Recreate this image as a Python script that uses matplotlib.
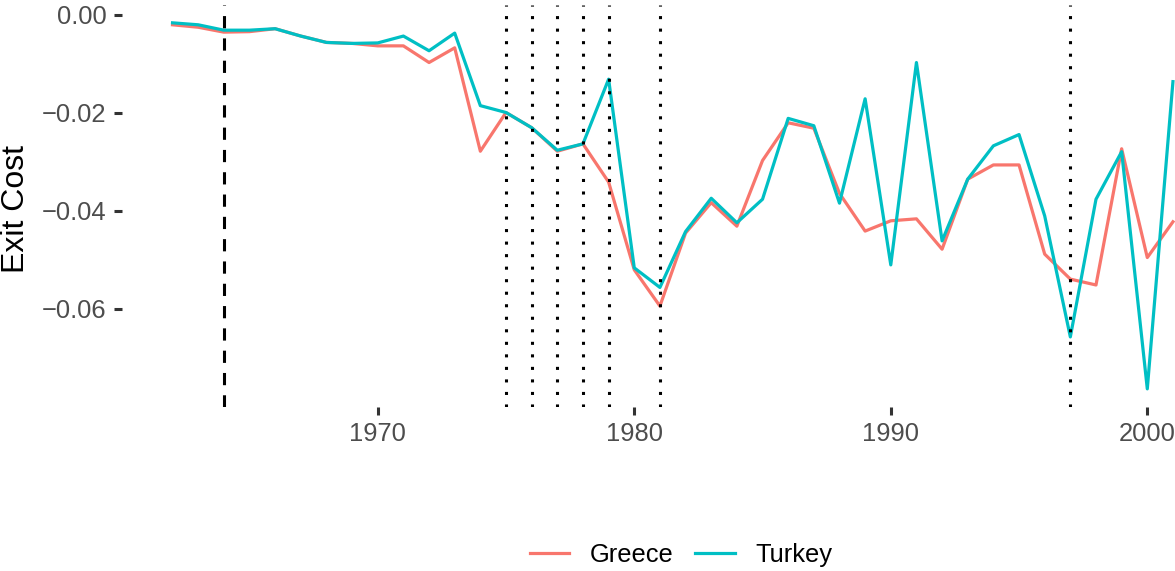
import matplotlib
matplotlib.use("Agg")
import matplotlib.pyplot as plt
import numpy as np

plt.rcParams['font.family'] = ['Liberation Sans', 'DejaVu Sans']

years = list(range(1962, 2002))
greece = [-0.0020, -0.0025, -0.0035, -0.0034, -0.0028, -0.0043, -0.0056, -0.0058,
          -0.0063, -0.0063, -0.0097, -0.0067, -0.0278, -0.0199, -0.0230, -0.0278,
          -0.0263, -0.0341, -0.0520, -0.0594, -0.0445, -0.0383, -0.0431, -0.0297,
          -0.0220, -0.0231, -0.0364, -0.0441, -0.0420, -0.0416, -0.0478, -0.0335,
          -0.0306, -0.0306, -0.0488, -0.0539, -0.0551, -0.0273, -0.0495, -0.0422]
turkey = [-0.0016, -0.0020, -0.0031, -0.0031, -0.0028, -0.0043, -0.0056, -0.0058,
          -0.0057, -0.0043, -0.0073, -0.0037, -0.0185, -0.0199, -0.0230, -0.0276,
          -0.0263, -0.0131, -0.0516, -0.0556, -0.0442, -0.0374, -0.0424, -0.0376,
          -0.0211, -0.0226, -0.0384, -0.0171, -0.0510, -0.0097, -0.0461, -0.0335,
          -0.0267, -0.0244, -0.0410, -0.0657, -0.0376, -0.0279, -0.0763, -0.0136]
dashed_years = [1964]
dotted_years = [1975, 1976, 1977, 1978, 1979, 1981, 1997]
x_ticks = [1970, 1980, 1990, 2000]
y_ticks = [0.00, -0.02, -0.04, -0.06]

W, H = 1175, 571
fig = plt.figure(figsize=(W / 100, H / 100), dpi=100)
# panel in pixel coords (image is cropped on the right)
left, right, top, bottom = 122, 1175, 4.7, 407
ax = fig.add_axes([left / W, 1 - bottom / H, (right - left) / W, (bottom - top) / H])

ax.plot(years, greece, color='#F8766D', lw=2.3, label='Greece', solid_joinstyle='round')
ax.plot(years, turkey, color='#00BFC4', lw=2.3, label='Turkey', solid_joinstyle='round')

for yr in dashed_years:
    ax.axvline(yr, color='black', lw=2.2, dashes=(4.0, 3.3), dash_capstyle='butt')
for yr in dotted_years:
    ax.axvline(yr, color='black', lw=2.2, dashes=(1.0, 3.1), dash_capstyle='butt')

ax.set_xlim(1960.03, 2001.08)
ax.set_ylim(-0.0800, 0.0021)
ax.set_xticks(x_ticks)
ax.set_yticks(y_ticks)
ax.set_yticklabels(['0.00' if v == 0 else '\u2212%.2f' % abs(v) for v in y_ticks])

for s in ax.spines.values():
    s.set_visible(False)
ax.tick_params(axis='both', length=5.8, width=2.2, color='#333333',
               labelcolor='#4D4D4D', labelsize=18.4, pad=5.2)
fig.text(16 / W, 1 - 209 / H, 'Exit Cost', rotation=90, fontsize=23,
         color='black', ha='center', va='center')

fig.legend(loc='center', bbox_to_anchor=(681 / W, 1 - 555 / H), ncol=2,
           frameon=False, fontsize=18.4, handlelength=1.55, handletextpad=0.8,
           columnspacing=0.85)

fig.savefig('out.png', dpi=100, facecolor='white')
